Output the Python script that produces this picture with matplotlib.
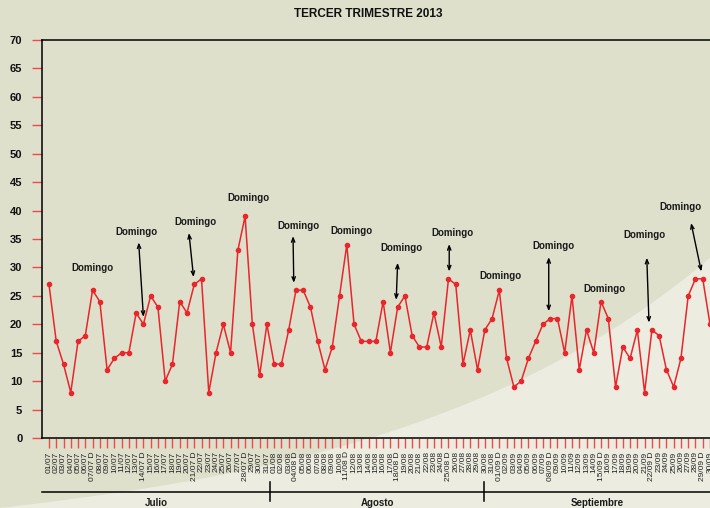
import numpy as np
import pandas as pd
import matplotlib
matplotlib.use("Agg")
import matplotlib.pyplot as plt
from matplotlib.path import Path
from matplotlib.patches import PathPatch

plt.rcParams['font.family'] = ['Liberation Sans', 'DejaVu Sans']

# daily values, third quarter 2013
julio = [27, 17, 13, 8, 17, 18, 26, 24, 12, 14, 15, 15, 22, 20, 25, 23,
         10, 13, 24, 22, 27, 28, 8, 15, 20, 15, 33, 39, 20, 11, 20]
agosto = [13, 13, 19, 26, 26, 23, 17, 12, 16, 25, 34, 20, 17, 17, 17, 24,
          15, 23, 25, 18, 16, 16, 22, 16, 28, 27, 13, 19, 12, 19, 21]
septiembre = [26, 14, 9, 10, 14, 17, 20, 21, 21, 15, 25, 12, 19, 15, 24,
              21, 9, 16, 14, 19, 8, 19, 18, 12, 9, 14, 25, 28, 28, 20]
meses = ["Julio", "Agosto", "Septiembre"]
month_breaks = [30.4, 59.9]

valores = julio + agosto + septiembre
fechas = pd.date_range("2013-07-01", "2013-09-30", freq="D")
etiquetas = [f"{d:%d/%m} D" if d.dayofweek == 6 else f"{d:%d/%m}" for d in fechas]
domingos = [i for i, d in enumerate(fechas) if d.dayofweek == 6]

# "Domingo" label placement (one per Sunday)
label_dx = [0.0, -1.0, 0.1, 0.4, 0.3, 0.6, 0.5, 0.5, 0.2, 0.4, 0.4, -1.0, -3.1]
label_y = [29.9, 36.2, 38.0, 42.2, 37.3, 36.4, 33.4, 36.1, 28.5, 33.8, 26.2, 35.7, 40.6]
# arrow start (None = no arrow)
arrow_dx = [None, -0.65, -0.73, None, -0.4, None, 0.0, 0.1, None, -0.2, None, -0.7, -1.6]
arrow_y = [None, 34.4, 36.05, None, 35.5, None, 30.8, 34.1, None, 31.8, None, 31.7, 37.8]
tip_dx = [0, 0.0, -0.1, 0, -0.3, 0, -0.2, 0.1, 0, -0.2, 0, -0.4, -0.2]

W, H = 710, 508
bg_dark = "#dfe0cc"
bg_light = "#ecede0"
rojo = "#e8262b"
tick_rojo = "#ec4b4b"

fig = plt.figure(figsize=(W / 100, H / 100), dpi=100, facecolor=bg_dark)

# light swoosh in the lower right
verts = [(0, 508), (240, 480), (500, 436), (710, 258), (710, 508), (0, 508), (0, 508)]
codes = [Path.MOVETO, Path.CURVE4, Path.CURVE4, Path.CURVE4, Path.LINETO, Path.LINETO, Path.CLOSEPOLY]
verts = [(x / W, 1 - y / H) for x, y in verts]
fig.patches.append(PathPatch(Path(verts, codes), transform=fig.transFigure,
                             facecolor=bg_light, edgecolor="none", zorder=-10))

px_per_day = 7.264
x0 = -0.96
x1 = 93.0
ax = fig.add_axes([42 / W, 70 / H, (x1 - x0) * px_per_day / W, 398 / H])
ax.patch.set_alpha(0)

x = np.arange(len(valores))
ax.plot(x, valores, color=rojo, lw=1.1, marker="o", ms=3, zorder=3, clip_on=False)

ax.set_xlim(x0, x1)
ax.set_ylim(0, 70)
ax.set_yticks(range(0, 71, 5))
ax.set_xticks(x)
ax.set_xticklabels(etiquetas, rotation=90, fontsize=6, color="#222222", va="top")
for lbl in ax.get_yticklabels():
    lbl.set_fontweight("bold")
ax.tick_params(axis="y", direction="out", length=7.2, width=1.0, color=tick_rojo,
               labelsize=8, pad=7, labelcolor="#111111")
ax.tick_params(axis="x", direction="out", length=7.2, width=1.0, color=tick_rojo, pad=2.5)

for s in ["left", "top", "bottom"]:
    ax.spines[s].set_color("black")
    ax.spines[s].set_linewidth(1.1)
ax.spines["right"].set_visible(False)

# Domingo annotations
for k, d in enumerate(domingos):
    ax.text(d + label_dx[k], label_y[k], "Domingo", ha="center", va="center",
            fontsize=7, fontweight="bold", color="#1a1a1a")
    if arrow_dx[k] is not None:
        ax.annotate("", xy=(d + tip_dx[k], valores[d] + 1.3),
                    xytext=(d + arrow_dx[k], arrow_y[k]),
                    arrowprops=dict(arrowstyle="<->,head_length=0.3,head_width=0.12",
                                    color="black", lw=1.0, shrinkA=0, shrinkB=0))

# month axis below the dates
trans = ax.get_xaxis_transform()
ax.plot([x0, x1], [-0.1357, -0.1357], color="black", lw=1.1, transform=trans, clip_on=False)
for b in month_breaks:
    ax.plot([b, b], [-0.1106, -0.1583], color="black", lw=1.1, transform=trans, clip_on=False)
bordes = [x0] + month_breaks + [(W - 49) / px_per_day]
for i, mes in enumerate(meses):
    ax.text((bordes[i] + bordes[i + 1]) / 2, -0.1625, mes, transform=trans,
            ha="center", va="center", fontsize=7, fontweight="bold", color="#1a1a1a")

fig.text(368 / W, 1 - 14 / H, "TERCER TRIMESTRE 2013", ha="center", va="center",
         fontsize=8.5, fontweight="bold", color="#111111")

fig.savefig("out.png", dpi=100, facecolor=bg_dark)
